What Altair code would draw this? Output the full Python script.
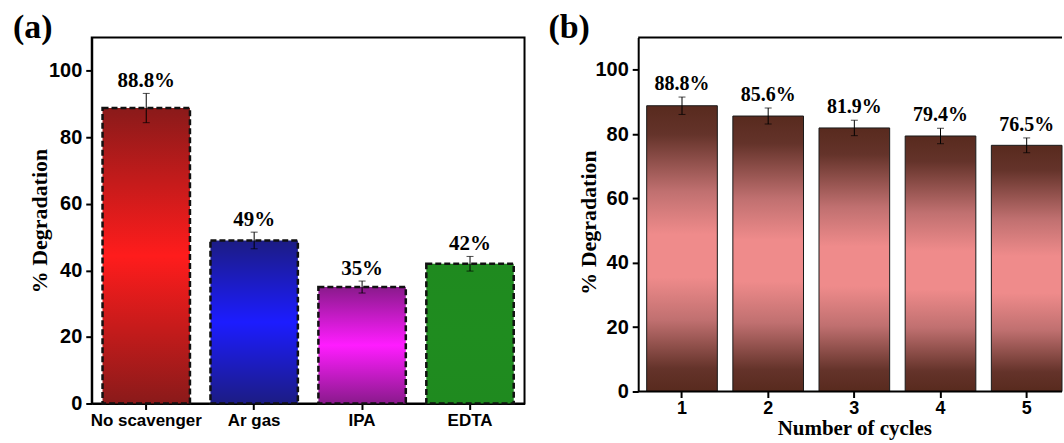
import altair as alt
import pandas as pd

# ---------- data ----------
scavengers = ["No scavenger", "Ar gas", "IPA", "EDTA"]
scav_values = [88.8, 49.0, 35.0, 42.0]
scav_errors = [4.4, 2.5, 1.8, 2.2]
scav_labels = ["88.8%", "49%", "35%", "42%"]
scav_dark = ["#8a1a1a", "#1c1c84", "#8a1a8c", "#1f8a1f"]
scav_bright = ["#ff1c1c", "#1c1cff", "#ff1cff", "#1f8c1f"]

cycles = ["1", "2", "3", "4", "5"]
cycle_values = [88.8, 85.6, 81.9, 79.4, 76.5]
cycle_errors = [2.7, 2.5, 2.4, 2.4, 2.3]
cycle_labels = ["88.8%", "85.6%", "81.9%", "79.4%", "76.5%"]

y_ticks = [0, 20, 40, 60, 80, 100]
y_max = 110

df_a = pd.DataFrame({"cat": scavengers, "val": scav_values, "err": scav_errors, "label": scav_labels})
df_a["lo"] = df_a["val"] - df_a["err"]
df_a["hi"] = df_a["val"] + df_a["err"]

df_b = pd.DataFrame({"cyc": cycles, "val": cycle_values, "err": cycle_errors, "label": cycle_labels})
df_b["lo"] = df_b["val"] - df_b["err"]
df_b["hi"] = df_b["val"] + df_b["err"]

SERIF = "Liberation Serif"
SANS = "Liberation Sans"

WA, HA = 434, 367
WB, HB = 425, 355


def grad(stops):
    return alt.Gradient(
        gradient="linear", x1=0, x2=0, y1=0, y2=1,
        stops=[alt.GradientStop(offset=o, color=c) for o, c in stops],
    )


# ---------- panel (a) ----------
xa = alt.X("cat:N", sort=scavengers, title=None,
           scale=alt.Scale(paddingInner=0.19, paddingOuter=0.1),
           axis=alt.Axis(labelAngle=0, labelFontSize=17, labelPadding=3))
axis_ya = alt.Axis(values=y_ticks, title="% Degradation", titleX=-52, titleBaseline="middle")


def ya(field):
    return alt.Y(field, scale=alt.Scale(domain=[0, y_max], nice=False), axis=axis_ya)


base_a = alt.Chart(df_a)
layers_a = []
for i, c in enumerate(scavengers):
    g = grad([(0, scav_dark[i]), (0.5, scav_bright[i]), (1, scav_dark[i])])
    layers_a.append(
        base_a.transform_filter(alt.datum.cat == c)
        .mark_bar(color=g, stroke="#111111", strokeWidth=2.5, strokeDash=[6, 3])
        .encode(x=xa, y=ya("val:Q"))
    )
err_a = base_a.mark_rule(color="black", strokeWidth=1).encode(x=xa, y=ya("lo:Q"), y2="hi:Q")
cap_hi_a = base_a.mark_tick(orient="horizontal", size=7, thickness=1, color="black").encode(x=xa, y=ya("hi:Q"))
cap_lo_a = base_a.mark_tick(orient="horizontal", size=7, thickness=1, color="black").encode(x=xa, y=ya("lo:Q"))
txt_a = base_a.mark_text(font=SERIF, fontWeight="bold", fontSize=21, baseline="bottom", dy=-2,
                         color="black").encode(x=xa, y=ya("hi:Q"), text="label:N")
tag_a = alt.Chart(pd.DataFrame({"t": ["(a)"]})).mark_text(
    x=-79, y=-10, align="left", baseline="middle", font=SERIF, fontWeight="bold",
    fontSize=34, color="black").encode(text="t:N")

panel_a = alt.layer(*layers_a, err_a, cap_hi_a, cap_lo_a, txt_a, tag_a).properties(width=WA, height=HA)

# ---------- panel (b) ----------
xb = alt.X("cyc:N", sort=cycles, title="Number of cycles",
           scale=alt.Scale(paddingInner=0.18, paddingOuter=0, range=[8.5, WB]),
           axis=alt.Axis(labelAngle=0, labelFontSize=18, labelPadding=2, titleFontSize=21,
                         titlePadding=0, domain=False))
axis_yb = alt.Axis(values=y_ticks, title="% Degradation", titleX=-50, titleY=185, titleBaseline="middle")


def yb(field):
    return alt.Y(field, scale=alt.Scale(domain=[0, y_max], nice=False), axis=axis_yb)


brown = grad([
    (0.0, "#582a1e"), (0.1, "#64332a"), (0.3, "#c07070"), (0.45, "#ef8b8b"),
    (0.6, "#ef8b8b"), (0.75, "#c07070"), (0.92, "#64332a"), (1.0, "#582a1e"),
])
base_b = alt.Chart(df_b)
bars_b = base_b.mark_bar(color=brown, stroke="#1a1a1a", strokeWidth=1).encode(x=xb, y=yb("val:Q"))
err_b = base_b.mark_rule(color="black", strokeWidth=1).encode(x=xb, y=yb("lo:Q"), y2="hi:Q")
cap_hi_b = base_b.mark_tick(orient="horizontal", size=7, thickness=1, color="black").encode(x=xb, y=yb("hi:Q"))
cap_lo_b = base_b.mark_tick(orient="horizontal", size=7, thickness=1, color="black").encode(x=xb, y=yb("lo:Q"))
txt_b = base_b.mark_text(font=SERIF, fontWeight="bold", fontSize=20, baseline="bottom", dy=-3,
                         color="black").encode(x=xb, y=yb("hi:Q"), text="label:N")
frame_df = pd.DataFrame({"edge": [0, y_max]})
frame_b = alt.Chart(frame_df).mark_rule(color="black", strokeWidth=2).encode(
    y=yb("edge:Q"), x=alt.value(0), x2=alt.value(WB))
tag_b = alt.Chart(pd.DataFrame({"t": ["(b)"]})).mark_text(
    x=-90, y=-10, align="left", baseline="middle", font=SERIF, fontWeight="bold",
    fontSize=34, color="black").encode(text="t:N")

panel_b = alt.layer(bars_b, err_b, cap_hi_b, cap_lo_b, txt_b, frame_b, tag_b).properties(
    width=WB, height=HB, view=alt.ViewBackground(stroke="transparent"))

chart = (
    alt.hconcat(panel_a, panel_b, spacing=22)
    .properties(padding={"left": 12, "top": 9, "right": 0, "bottom": 0}, background="white")
    .configure_view(stroke="black", strokeWidth=2)
    .configure_axis(
        domainColor="black", domainWidth=2, tickColor="black", tickWidth=2, tickSize=6,
        labelFont=SANS, labelFontWeight="bold", labelColor="black", labelFontSize=20, labelPadding=4,
        titleFont=SERIF, titleFontWeight="bold", titleColor="black", titleFontSize=22,
        grid=False,
    )
)

chart.save("out.html", embed_options={"renderer": "svg", "actions": False})
